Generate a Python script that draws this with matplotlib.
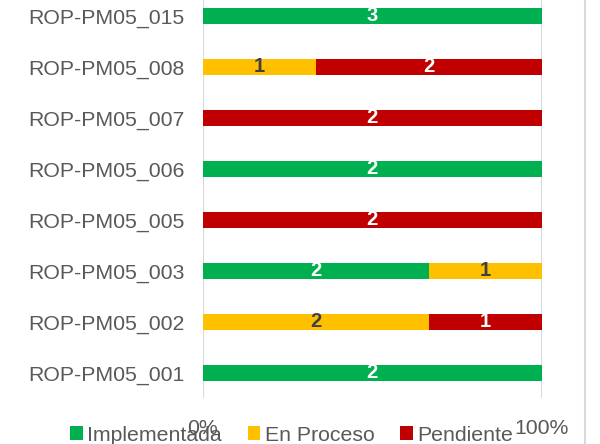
import matplotlib
matplotlib.use("Agg")
import matplotlib.pyplot as plt
import numpy as np
from matplotlib.lines import Line2D

plt.rcParams['font.family'] = ['Liberation Sans', 'DejaVu Sans']

# recomendaciones, de abajo hacia arriba
categorias = ['ROP-PM05_001', 'ROP-PM05_002', 'ROP-PM05_003', 'ROP-PM05_005',
              'ROP-PM05_006', 'ROP-PM05_007', 'ROP-PM05_008', 'ROP-PM05_015']
implementada = [2, 0, 2, 0, 2, 0, 0, 3]
en_proceso = [0, 2, 1, 0, 0, 0, 1, 0]
pendiente = [0, 1, 0, 2, 0, 2, 2, 0]

series = [
    ('Implementada', implementada, '#00B050', 'white'),
    ('En Proceso', en_proceso, '#FFC000', '#404040'),
    ('Pendiente', pendiente, '#C00000', 'white'),
]

total = np.array(implementada) + np.array(en_proceso) + np.array(pendiente)

fig = plt.figure(figsize=(6, 4.44), dpi=100)
ax = fig.add_axes([0.338, 0.1025, 0.565, 0.919])

y = np.arange(len(categorias))
izq = np.zeros(len(categorias))
for nombre, vals, color, txtcolor in series:
    vals = np.array(vals)
    pct = vals / total
    ax.barh(y, pct, left=izq, height=0.31, color=color, label=nombre, zorder=2)
    for i in range(len(vals)):
        if vals[i] > 0:
            ax.text(izq[i] + pct[i] / 2, y[i], str(vals[i]), ha='center', va='center',
                    color=txtcolor, fontsize=14.5, fontweight='bold', zorder=3)
    izq = izq + pct

ax.set_xlim(0, 1)
ax.set_ylim(-0.5, len(categorias) - 0.5)
ax.set_yticks(y)
ax.set_yticklabels(categorias, fontsize=15.3, color='#595959')
ax.set_xticks([0, 1])
ax.set_xticklabels(['0%', '100%'], fontsize=15.3, color='#595959')
ax.tick_params(axis='both', length=0)
ax.tick_params(axis='x', pad=15)
ax.tick_params(axis='y', pad=13)
for s in ax.spines.values():
    s.set_visible(False)
ax.grid(axis='x', color='#d9d9d9', linewidth=1.5, zorder=0)

# borde derecho del área del gráfico
fig.add_artist(Line2D([0.975, 0.975], [0, 1], color='#d9d9d9', linewidth=1.5))

fig.legend(loc='center', bbox_to_anchor=(0.486, 0.02), ncol=3, frameon=False,
           fontsize=15.3, labelcolor='#595959', handlelength=0.6, handleheight=0.6,
           handletextpad=0.2, columnspacing=1.2)

fig.savefig('out.png', dpi=100)
